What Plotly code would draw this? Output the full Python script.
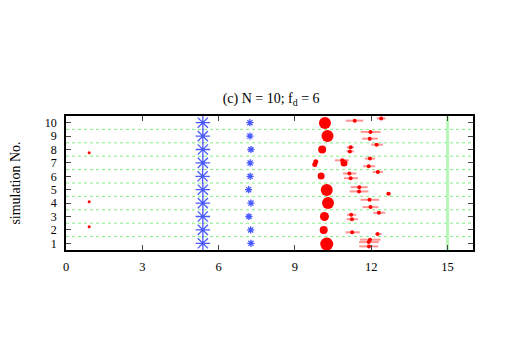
import plotly.graph_objects as go

# tiny red dots near x = 1
dot_x = [0.91, 0.91, 0.91]
dot_y = [7.75, 4.1, 2.24]

# big blue asterisks
sim_no = [1, 2, 3, 4, 5, 6, 7, 8, 9, 10]
big_ast_x = [5.38, 5.38, 5.38, 5.38, 5.38, 5.37, 5.38, 5.38, 5.38, 5.38]

# small blue asterisks
small_ast_x = [7.27, 7.26, 7.19, 7.27, 7.18, 7.24, 7.24, 7.27, 7.23, 7.23]

# big red circles (size in px)
circ_x = [10.25, 10.13, 10.16, 10.3, 10.25, 10.03, 9.82, 9.78, 10.93, 10.07, 10.28, 10.18]
circ_y = [0.94, 1.99, 3.0, 4.0, 4.98, 6.03, 7.08, 6.88, 7.0, 8.0, 9.0, 9.98]
circ_s = [13, 8, 9, 12, 12, 7, 5, 5, 7, 8, 12, 12]

# red points with horizontal error bars
pt_x = [11.95, 11.9, 11.91, 11.25, 12.25, 11.21, 11.24, 12.3, 11.93, 11.97,
        11.53, 11.52, 12.68, 11.14, 11.19, 12.26, 10.86, 11.95, 11.9,
        11.19, 11.16, 12.21, 11.97, 11.94, 11.35, 12.39]
pt_y = [1.27, 1.09, 0.77, 1.82, 1.69, 3.13, 2.8, 3.28, 4.25, 3.7,
        5.19, 4.87, 4.7, 6.21, 5.86, 6.33, 7.19, 7.32, 6.75,
        8.16, 7.86, 8.36, 9.31, 8.81, 10.15, 10.32]
pt_elo = [0.39, 0.38, 0.38, 0.26, 0.1, 0.16, 0.21, 0.22, 0.35, 0.31,
          0.34, 0.37, 0.1, 0.25, 0.26, 0.2, 0.29, 0.2, 0.22,
          0.16, 0.13, 0.21, 0.38, 0.3, 0.35, 0.17]
pt_ehi = [0.42, 0.4, 0.36, 0.3, 0.16, 0.2, 0.24, 0.25, 0.38, 0.31,
          0.33, 0.37, 0.09, 0.27, 0.29, 0.2, 0.26, 0.2, 0.25,
          0.13, 0.16, 0.25, 0.39, 0.32, 0.33, 0.17]

x_ticks = [0, 3, 6, 9, 12, 15]
grid_y = [1.5, 2.5, 3.5, 4.5, 5.5, 6.5, 7.5, 8.5, 9.5]

serif = "Liberation Serif"
blue = "rgba(40,60,255,0.85)"

fig = go.Figure()

for gy in grid_y:
    fig.add_hline(y=gy, line=dict(color="#80f080", width=1, dash="dot"), layer="below")
fig.add_vline(x=15, line=dict(color="#b8f5b8", width=3), layer="below")

fig.add_trace(go.Scatter(x=dot_x, y=dot_y, mode="markers",
                         marker=dict(color="red", size=3)))
fig.add_trace(go.Scatter(x=big_ast_x, y=sim_no, mode="markers",
                         marker=dict(symbol="asterisk-open", size=12, color=blue,
                                     line=dict(color=blue, width=1.3))))
fig.add_trace(go.Scatter(x=small_ast_x, y=sim_no, mode="markers",
                         marker=dict(symbol="asterisk-open", size=6, color=blue,
                                     line=dict(color=blue, width=1.3))))
fig.add_trace(go.Scatter(x=circ_x, y=circ_y, mode="markers",
                         marker=dict(color="#ff0000", size=circ_s, opacity=1,
                                     line=dict(width=0))))
fig.add_trace(go.Scatter(
    x=pt_x, y=pt_y, mode="markers",
    marker=dict(color="#ff0000", size=4),
    error_x=dict(type="data", symmetric=False, array=pt_ehi, arrayminus=pt_elo,
                 color="rgba(255,60,60,0.55)", thickness=2, width=0),
))

fig.update_layout(
    width=506, height=354,
    margin=dict(l=58, r=41, t=108, b=112, autoexpand=False),
    paper_bgcolor="white", plot_bgcolor="white",
    showlegend=False,
    font=dict(family=serif, size=12, color="black"),
    title=dict(text="(c) N = 10; f<sub>d</sub> = 6", x=0.52, xanchor="center",
               y=0.746, yanchor="middle",
               font=dict(family=serif, size=14, color="black")),
)
fig.update_xaxes(
    range=[0, 16], tickvals=x_ticks, ticks="inside", ticklen=5,
    tickfont=dict(family=serif, size=12.5, color="black"),
    ticklabelstandoff=4,
    showline=True, linecolor="black", linewidth=1.5, mirror="allticks",
    showgrid=False, zeroline=False, automargin=False,
)
fig.update_yaxes(
    range=[0.5, 10.5], tickvals=sim_no, ticks="inside", ticklen=5,
    tickfont=dict(family=serif, size=12, color="black"),
    ticklabelstandoff=5,
    showline=True, linecolor="black", linewidth=1.5, mirror="allticks",
    showgrid=False, zeroline=False, automargin=False,
    title=dict(text="simulation No.", standoff=21,
               font=dict(family=serif, size=14, color="black")),
)

fig.write_html("out.html")
